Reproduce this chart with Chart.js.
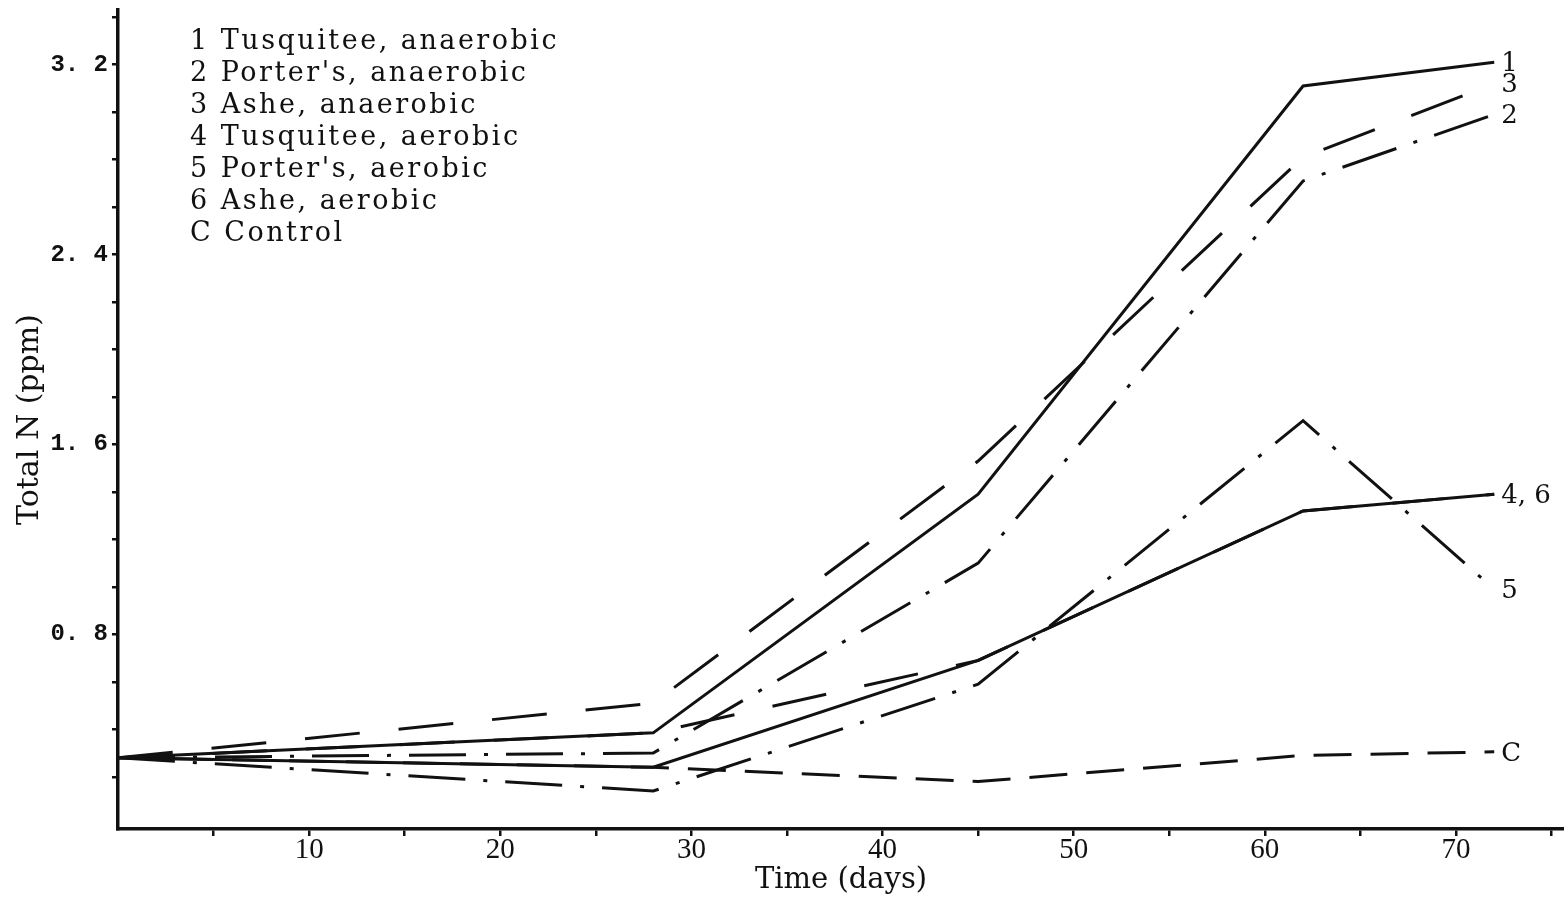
<!DOCTYPE html>
<html>
<head>
<meta charset="utf-8">
<title>Total N (ppm) vs Time (days)</title>
<script src="https://cdn.jsdelivr.net/npm/chart.js@4.4.1/dist/chart.umd.min.js"></script>
<style>
  html, body { margin: 0; padding: 0; background: #ffffff; }
  #wrap { width: 1564px; height: 899px; }
  canvas { display: block; }
</style>
</head>
<body>
<div id="wrap"><canvas id="chart" width="1564" height="899"></canvas></div>
<script>
// Sampling days
const days = [0, 28, 45, 62, 72];

// Total N (ppm) for each treatment
const tusquiteeAnaerobic = [0.28, 0.385, 1.39, 3.11, 3.21];
const portersAnaerobic   = [0.28, 0.30, 1.10, 2.71, 2.99];
const asheAnaerobic      = [0.28, 0.51, 1.53, 2.81, 3.12];
const tusquiteeAerobic   = [0.28, 0.24, 0.69, 1.32, 1.39];
const portersAerobic     = [0.28, 0.14, 0.59, 1.70, 0.99];
const asheAerobic        = [0.28, 0.385, 0.69, 1.32, 1.39];
const control            = [0.28, 0.24, 0.18, 0.29, 0.305];

// Key text and curve end labels
const legendLines = [
  "1 Tusquitee, anaerobic",
  "2 Porter's, anaerobic",
  "3 Ashe, anaerobic",
  "4 Tusquitee, aerobic",
  "5 Porter's, aerobic",
  "6 Ashe, aerobic",
  "C Control"
];
const endLabels = ["1", "2", "3", "4, 6", "5", "", "C"];

// Axis tick labels
const yTickValues = [0.8, 1.6, 2.4, 3.2];
const yTickLabels = ["0. 8", "1. 6", "2. 4", "3. 2"];
const xTickValues = [10, 20, 30, 40, 50, 60, 70];
const xTickLabels = ["10", "20", "30", "40", "50", "60", "70"];

const INK = '#111111';
const SOLID = [];
const LONG_DASH = [55, 39];
const DASH_DOT = [57, 18, 4, 18];
const SHORT_DASH = [38, 19];

function pairs(values) {
  return days.map((d, i) => ({ x: d, y: values[i] }));
}

function series(label, values, dash) {
  return {
    label: label,
    data: pairs(values),
    borderColor: INK,
    borderWidth: 3,
    borderDash: dash,
    borderCapStyle: 'butt',
    borderJoinStyle: 'miter',
    pointRadius: 0,
    pointHoverRadius: 0,
    tension: 0,
    fill: false
  };
}

const datasets = [
  series(legendLines[0], tusquiteeAnaerobic, SOLID),
  series(legendLines[1], portersAnaerobic, DASH_DOT),
  series(legendLines[2], asheAnaerobic, LONG_DASH),
  series(legendLines[3], tusquiteeAerobic, SOLID),
  series(legendLines[4], portersAerobic, DASH_DOT),
  series(legendLines[5], asheAerobic, LONG_DASH),
  series(legendLines[6], control, SHORT_DASH)
];

// Key block in the upper left of the plot
const keyText = {
  id: 'keyText',
  afterDraw(chart) {
    const ctx = chart.ctx;
    const area = chart.chartArea;
    ctx.save();
    ctx.fillStyle = INK;
    ctx.font = '27px "DejaVu Serif"';
    ctx.textAlign = 'left';
    ctx.textBaseline = 'middle';
    if ('letterSpacing' in ctx) ctx.letterSpacing = '2.5px';
    legendLines.forEach((line, i) => {
      ctx.fillText(line, area.left + 72, area.top + 32 + i * 32);
    });
    ctx.restore();
  }
};

// Curve numbers at the right-hand end of each line
const curveEnds = {
  id: 'curveEnds',
  afterDatasetsDraw(chart) {
    const ctx = chart.ctx;
    ctx.save();
    ctx.fillStyle = INK;
    ctx.font = '26px "DejaVu Serif"';
    ctx.textAlign = 'left';
    ctx.textBaseline = 'middle';
    chart.data.datasets.forEach((ds, i) => {
      const text = endLabels[i];
      if (!text) return;
      const meta = chart.getDatasetMeta(i);
      const last = meta.data[meta.data.length - 1];
      ctx.fillText(text, last.x + 7, last.y + 2);
    });
    ctx.restore();
  }
};

function matchLabel(value, values, labels) {
  for (let i = 0; i < values.length; i++) {
    if (Math.abs(values[i] - value) < 1e-6) return labels[i];
  }
  return '';
}

new Chart(document.getElementById('chart'), {
  type: 'line',
  data: { datasets: datasets },
  options: {
    responsive: false,
    animation: false,
    devicePixelRatio: 1,
    layout: { padding: { top: 10, left: 0, right: 0, bottom: 0 } },
    plugins: {
      legend: { display: false },
      tooltip: { enabled: false }
    },
    scales: {
      x: {
        type: 'linear',
        min: 0,
        max: 75.65,
        afterFit(scale) {
          scale.height = 70;
          scale.paddingLeft = 0;
          scale.paddingRight = 0;
        },
        border: { display: true, color: INK, width: 3.5 },
        grid: {
          display: true,
          drawOnChartArea: false,
          drawTicks: true,
          tickLength: 7,
          lineWidth: 2.5,
          color: (c) => (c.tick && c.tick.value === 0) ? 'rgba(0,0,0,0)' : INK
        },
        ticks: {
          stepSize: 5,
          includeBounds: false,
          maxRotation: 0,
          autoSkip: false,
          padding: -3,
          color: INK,
          font: { family: '"Liberation Serif"', size: 29 },
          callback: (v) => matchLabel(v, xTickValues, xTickLabels)
        },
        title: {
          display: true,
          text: 'Time (days)',
          color: INK,
          font: { family: '"DejaVu Serif"', size: 29 },
          padding: { top: 0, bottom: 1 }
        }
      },
      y: {
        type: 'linear',
        min: -0.02,
        max: 3.43,
        afterFit(scale) {
          scale.width = 118;
          scale.paddingTop = 0;
          scale.paddingBottom = 0;
        },
        border: { display: true, color: INK, width: 3.5 },
        grid: {
          display: true,
          drawOnChartArea: false,
          drawTicks: true,
          tickLength: 6,
          lineWidth: 2.5,
          color: (c) => (c.tick && Math.abs(c.tick.value) < 1e-6) ? 'rgba(0,0,0,0)' : INK
        },
        ticks: {
          stepSize: 0.2,
          includeBounds: false,
          autoSkip: false,
          padding: 4,
          color: INK,
          font: { family: '"Liberation Mono"', size: 24, weight: 'bold' },
          callback: (v) => matchLabel(v, yTickValues, yTickLabels)
        },
        title: {
          display: true,
          text: 'Total N (ppm)',
          color: INK,
          font: { family: '"DejaVu Serif"', size: 30 },
          padding: { top: 12, bottom: 0 }
        }
      }
    }
  },
  plugins: [keyText, curveEnds]
});
</script>
</body>
</html>
